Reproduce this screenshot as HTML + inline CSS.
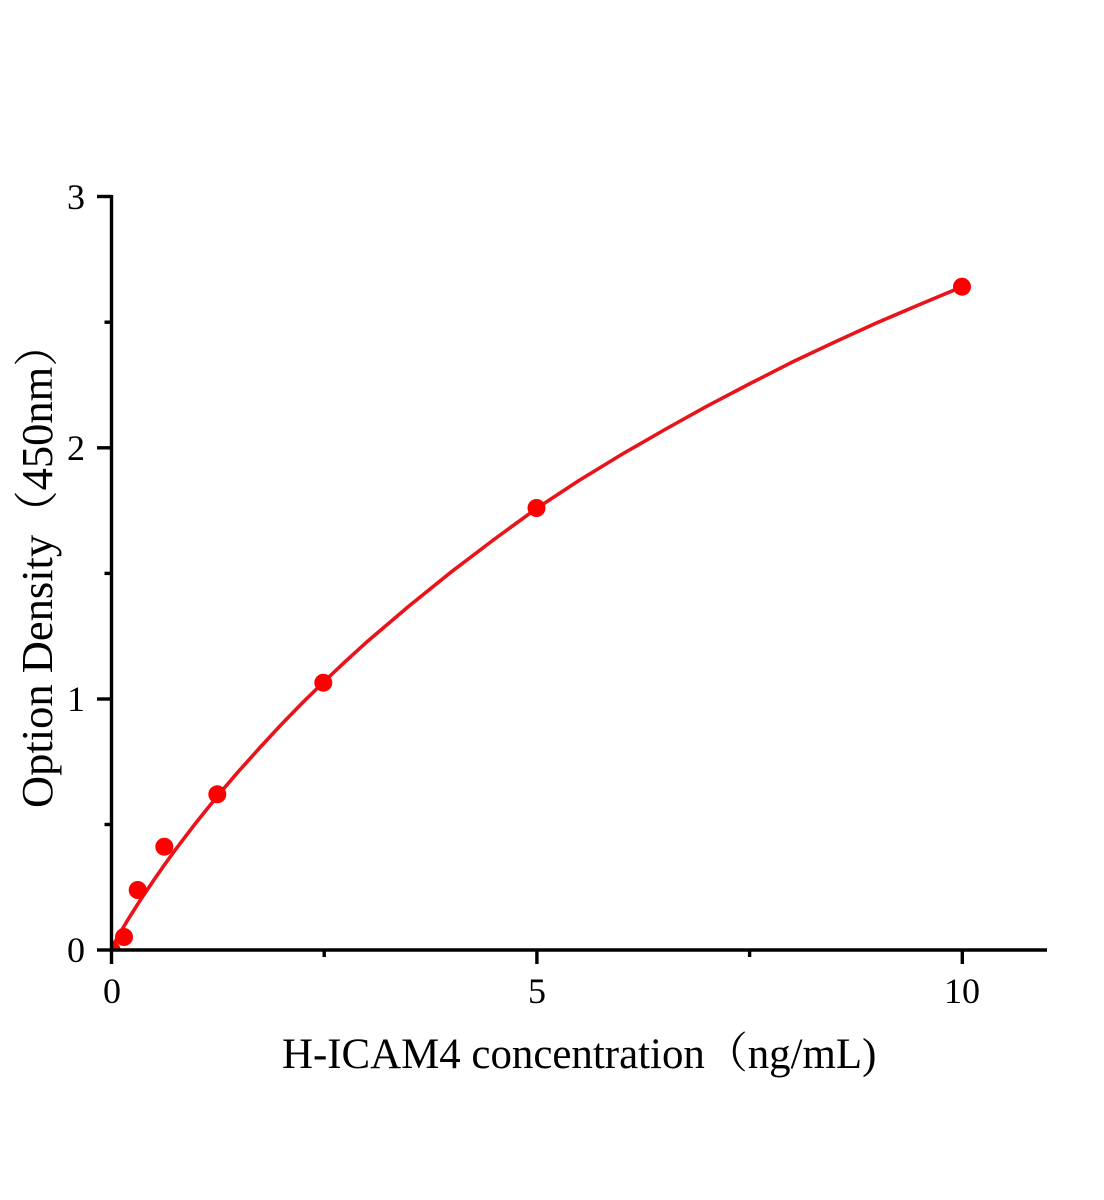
<!DOCTYPE html>
<html>
<head>
<meta charset="utf-8">
<style>
html,body{margin:0;padding:0;background:#fff;}
svg{display:block;}
text{font-family:"Liberation Serif","Noto Serif CJK SC",serif;fill:#000;}
</style>
</head>
<body>
<svg width="1104" height="1200" viewBox="0 0 1104 1200" xmlns="http://www.w3.org/2000/svg">
<rect x="0" y="0" width="1104" height="1200" fill="#fff"/>
<defs>
<clipPath id="plot"><rect x="111.5" y="150" width="950" height="800"/></clipPath>
</defs>

<!-- fitted curve -->
<polyline fill="none" stroke="#e8141a" stroke-width="3.6" stroke-linejoin="round" stroke-linecap="round" clip-path="url(#plot)"
points="111.5,950 111.85,948.1 112.7,946.4 115.3,941.5 119.5,933.8 128.0,919.5 140.8,899.4 153.6,880.4 164.2,865.2 174.8,850.6 185.5,836.4 196.1,822.6 217.4,796.1 238.7,771.2 260.0,747.5 281.2,724.6 302.5,702.8 323.8,681.9 345.0,661.8 366.3,642.4 408.9,606.1 451.4,571.8 494.0,539.5 536.5,508.5 579.0,480.5 621.6,454.5 664.1,430.0 706.7,406.3 749.2,384.0 791.8,362.3 834.3,342.3 876.9,322.8 919.4,304.6 962.0,286.8"/>

<!-- markers -->
<g fill="#ff0000">
<circle cx="111.5" cy="950" r="9" clip-path="url(#plot)"/>
<circle cx="124" cy="937" r="9"/>
<circle cx="137.7" cy="890" r="9"/>
<circle cx="164.3" cy="846.7" r="9"/>
<circle cx="217.3" cy="794.3" r="9"/>
<circle cx="323.3" cy="682.7" r="9"/>
<circle cx="536.5" cy="508" r="9"/>
<circle cx="962" cy="286.7" r="9"/>
</g>

<!-- axes -->
<g stroke="#000" stroke-width="3.4" fill="none">
<line x1="111.5" y1="195" x2="111.5" y2="951.5"/>
<line x1="110" y1="950" x2="1047" y2="950"/>
<!-- y major ticks -->
<line x1="97" y1="950" x2="111.5" y2="950"/>
<line x1="97" y1="699" x2="111.5" y2="699"/>
<line x1="97" y1="447.8" x2="111.5" y2="447.8"/>
<line x1="97" y1="196.5" x2="111.5" y2="196.5"/>
<!-- y minor ticks -->
<line x1="104.5" y1="824.5" x2="111.5" y2="824.5"/>
<line x1="104.5" y1="573.4" x2="111.5" y2="573.4"/>
<line x1="104.5" y1="322.2" x2="111.5" y2="322.2"/>
<!-- x major ticks -->
<line x1="111.5" y1="950" x2="111.5" y2="964"/>
<line x1="536.9" y1="950" x2="536.9" y2="964"/>
<line x1="962.3" y1="950" x2="962.3" y2="964"/>
<!-- x minor ticks -->
<line x1="324.2" y1="950" x2="324.2" y2="957"/>
<line x1="749.6" y1="950" x2="749.6" y2="957"/>
</g>

<!-- y tick labels -->
<g font-size="36" text-anchor="end">
<text x="85" y="962">0</text>
<text x="85" y="711">1</text>
<text x="85" y="460">2</text>
<text x="85" y="209">3</text>
</g>

<!-- x tick labels -->
<g font-size="36" text-anchor="middle">
<text x="112" y="1003">0</text>
<text x="537" y="1003">5</text>
<text x="962" y="1003">10</text>
</g>

<!-- axis titles -->
<text x="282" y="1068" font-size="42.9">H-ICAM4 concentration（ng/mL)</text>
<text transform="translate(52,808) rotate(-90)" x="0" y="0" font-size="44.5">Option Density（450nm）</text>
</svg>
</body>
</html>
